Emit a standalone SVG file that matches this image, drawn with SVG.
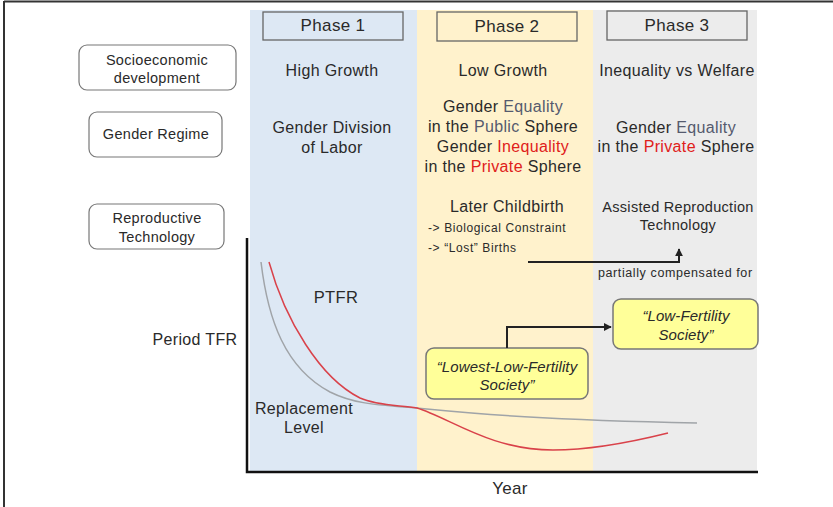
<svg xmlns="http://www.w3.org/2000/svg" width="833" height="507" viewBox="0 0 833 507">
<defs>
<style>
text{font-family:"Liberation Sans",Arial,sans-serif;fill:#2a2a2a;text-anchor:middle}
.t{font-size:16px;letter-spacing:0.35px}
.s{font-size:14.5px;letter-spacing:0.3px}
.xs{font-size:12px;letter-spacing:0.6px;text-anchor:start}
.lab{fill:#fff;stroke:#777;stroke-width:1.2}
.ph{stroke:#666;stroke-width:1.3}
.yb{fill:#ffff99;stroke:#777;stroke-width:1.5}
.b{fill:#555a6e}
.r{fill:#e0201a}
.it{font-style:italic;font-size:15px;letter-spacing:0.1px}
.conn{fill:none;stroke:#222;stroke-width:2}
</style>
<marker id="ah" viewBox="0 0 10 10" refX="9" refY="5" markerWidth="4" markerHeight="4" orient="auto"><path d="M0,0L10,5L0,10z" fill="#222"/></marker>
</defs>
<rect width="833" height="507" fill="#fff"/>
<path d="M4,1.5H833M4,1V507" stroke="#333" stroke-width="2" fill="none"/>
<g id="backgrounds">
<rect x="250" y="10" width="167" height="462" fill="#dde8f4"/>
<rect x="417" y="10" width="176" height="462" fill="#fff2cc"/>
<rect x="593" y="10" width="164" height="462" fill="#ececec"/>
</g>
<g id="phase1"><rect class="ph" x="263" y="12" width="140" height="28" fill="#dde8f4"/><text class="t" x="333" y="31" style="font-size:17px">Phase 1</text></g>
<g id="phase2"><rect class="ph" x="437" y="12" width="140" height="29" fill="#fff2cc"/><text class="t" x="507" y="32" style="font-size:17px">Phase 2</text></g>
<g id="phase3"><rect class="ph" x="607" y="11" width="140" height="29" fill="#ececec"/><text class="t" x="677" y="31" style="font-size:17px">Phase 3</text></g>
<g id="label-socio"><rect class="lab" x="79" y="45" width="157" height="45" rx="8"/><text class="s" x="157" y="65">Socioeconomic</text><text class="s" x="157" y="83">development</text></g>
<g id="label-gender"><rect class="lab" x="89" y="112" width="133" height="45" rx="8"/><text class="s" x="156" y="139">Gender  Regime</text></g>
<g id="label-repro"><rect class="lab" x="89" y="204" width="135" height="45" rx="8"/><text class="s" x="157" y="223">Reproductive</text><text class="s" x="157" y="242">Technology</text></g>
<g id="phase1-text">
<text class="t" x="332" y="76">High Growth</text>
<text class="t" x="332" y="133">Gender Division</text>
<text class="t" x="332" y="153">of Labor</text>
</g>
<g id="phase2-text">
<text class="t" x="503" y="76">Low Growth</text>
<text class="t" x="503" y="112">Gender <tspan class="b">Equality</tspan></text>
<text class="t" x="503" y="132">in the <tspan class="b">Public</tspan> Sphere</text>
<text class="t" x="503" y="152">Gender <tspan class="r">Inequality</tspan></text>
<text class="t" x="503" y="172">in the <tspan class="r">Private</tspan> Sphere</text>
<text class="t" x="507" y="212">Later Childbirth</text>
<text class="xs" x="428" y="232">-&gt; Biological  Constraint</text>
<text class="xs" x="428" y="252">-&gt; “Lost” Births</text>
</g>
<g id="phase3-text">
<text class="t" x="677" y="76">Inequality vs Welfare</text>
<text class="t" x="676" y="133">Gender <tspan class="b">Equality</tspan></text>
<text class="t" x="676" y="152">in the <tspan class="r">Private</tspan> Sphere</text>
<text class="s" x="678" y="212">Assisted Reproduction</text>
<text class="s" x="678" y="230">Technology</text>
<text class="xs" x="598" y="277" style="font-size:12.5px">partially  compensated for</text>
</g>
<g id="axes">
<path d="M247,238V472H758" fill="none" stroke="#111" stroke-width="2.5"/>
<text class="t" x="195" y="345">Period TFR</text>
<text class="t" x="510" y="494" style="font-size:17px">Year</text>
<text class="t" x="336" y="303" style="font-size:16.5px">PTFR</text>
<text class="t" x="304" y="414">Replacement</text>
<text class="t" x="304" y="433">Level</text>
</g>
<g id="curves">
<path d="M261,262C268,320 285,368 330,392C350,402 370,405 417,408C480,414 540,420 697,423" fill="none" stroke="#a0a4a8" stroke-width="1.5"/>
<path d="M269,262C285,320 320,378 360,398C378,406 400,405 417,408C450,418 490,450 553,450C595,450 640,440 668,433" fill="none" stroke="#d9424a" stroke-width="1.5"/>
</g>
<g id="box-lowest"><rect class="yb" x="426" y="348" width="162" height="51" rx="8"/><text class="it" x="507" y="372">“Lowest-Low-Fertility</text><text class="it" x="507" y="390">Society”</text></g>
<g id="box-low"><rect class="yb" x="613" y="299" width="145" height="50" rx="8"/><text class="it" x="686" y="321">“Low-Fertility</text><text class="it" x="686" y="340">Society”</text></g>
<g id="connectors">
<path class="conn" d="M528,262H679V249" marker-end="url(#ah)"/>
<path class="conn" d="M507,348V327H611" marker-end="url(#ah)"/>
</g>
</svg>
